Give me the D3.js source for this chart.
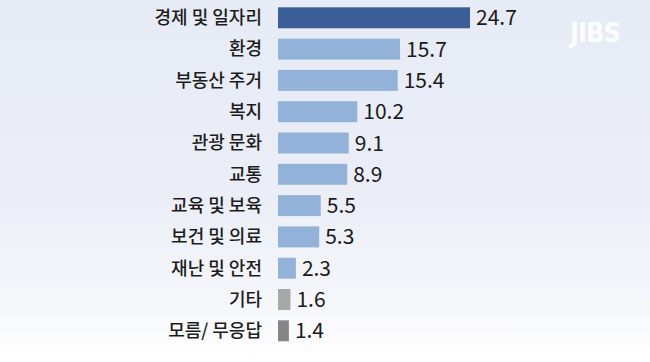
<!DOCTYPE html>
<html>
<head>
<meta charset="utf-8">
<script src="https://cdn.jsdelivr.net/npm/d3@7"></script>
<style>
  html, body { margin: 0; padding: 0; background: #fff; }
  svg { display: block; }
</style>
</head>
<body>
<svg id="chart" width="650" height="362"></svg>
<script>
const categories = ["경제 및 일자리", "환경", "부동산 주거", "복지", "관광 문화", "교통", "교육 및 보육", "보건 및 의료", "재난 및 안전", "기타", "모름/ 무응답"];
const values = [24.7, 15.7, 15.4, 10.2, 9.1, 8.9, 5.5, 5.3, 2.3, 1.6, 1.4];
const groups = ["top", "main", "main", "main", "main", "main", "main", "main", "main", "etc", "none"];
const valueLabels = ["24.7", "15.7", "15.4", "10.2", "9.1", "8.9", "5.5", "5.3", "2.3", "1.6", "1.4"];

const data = categories.map((c, i) => ({ cat: c, v: values[i], g: groups[i], lbl: valueLabels[i] }));

const svg = d3.select("#chart");
const W = 650, H = 362;

// background gradient
const defs = svg.append("defs");
const grad = defs.append("linearGradient").attr("id", "bg").attr("x1", 0).attr("y1", 0).attr("x2", 0).attr("y2", 1);
grad.append("stop").attr("offset", "0%").attr("stop-color", "#e7ebf6");
grad.append("stop").attr("offset", "55%").attr("stop-color", "#ebeef7");
grad.append("stop").attr("offset", "85%").attr("stop-color", "#f6f7fb");
grad.append("stop").attr("offset", "95%").attr("stop-color", "#fdfdfe");
grad.append("stop").attr("offset", "100%").attr("stop-color", "#ffffff");
svg.append("rect").attr("width", W).attr("height", H).attr("fill", "url(#bg)");

// logo
svg.append("text")
  .attr("x", 595).attr("y", 42)
  .attr("text-anchor", "middle")
  .attr("font-family", "'DejaVu Sans Condensed', 'Liberation Sans Narrow', 'Noto Sans', sans-serif")
  .attr("font-weight", "bold")
  .attr("font-size", 27)
  .attr("letter-spacing", -1)
  .attr("fill", "#ffffff")
  .attr("fill-opacity", 0.9)
  .text("JIBS");

const x = d3.scaleLinear().domain([0, 24.7]).range([278, 470]);
const y = d3.scaleBand().domain(categories).range([2.15, 346.45]).paddingInner(0.33).paddingOuter(0.165);
const color = d3.scaleOrdinal().domain(["top", "main", "etc", "none"]).range(["#3a5e95", "#93b2da", "#a8a8a8", "#858585"]);

const g = svg.append("g");

g.selectAll("rect.bar").data(data).join("rect")
  .attr("class", "bar")
  .attr("x", x(0))
  .attr("y", d => y(d.cat))
  .attr("width", d => x(d.v) - x(0))
  .attr("height", y.bandwidth())
  .attr("fill", d => color(d.g));

// category labels (axis)
const axis = d3.axisLeft(y).tickSize(0).tickPadding(0);
const ax = g.append("g").attr("transform", "translate(262,0)").call(axis);
ax.select(".domain").remove();
ax.selectAll("text")
  .attr("font-family", "'Noto Sans CJK KR', 'Noto Sans', sans-serif")
  .attr("font-size", 18)
  .attr("font-weight", 500)
  .attr("fill", "#1c1c1c")
  .attr("dy", "0.35em");

// value labels
g.selectAll("text.val").data(data).join("text")
  .attr("class", "val")
  .attr("x", d => x(d.v) + 6)
  .attr("y", d => y(d.cat) + y.bandwidth() / 2)
  .attr("dy", "0.36em")
  .attr("font-family", "'Noto Sans CJK KR', 'Noto Sans', sans-serif")
  .attr("font-size", 21)
  .attr("font-weight", 400)
  .attr("fill", "#1a1a1a")
  .text(d => d.lbl);
</script>
</body>
</html>
